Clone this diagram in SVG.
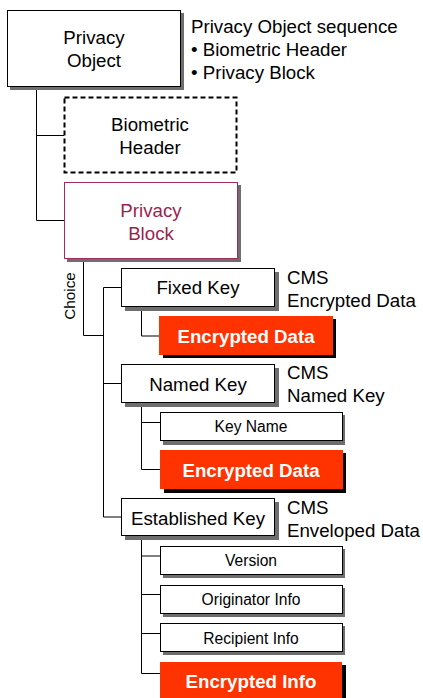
<svg xmlns="http://www.w3.org/2000/svg" width="423" height="698" viewBox="0 0 423 698">
  <style>
    text { font-family: "Liberation Sans", Arial, sans-serif; fill: #000; }
    .box { fill: #fff; stroke: #000; stroke-width: 1; }
    .shadow { fill: #6e6e6e; }
    .rshadow { fill: #000; }
    .red { fill: #ff3300; }
    .dash { fill: #fff; stroke: #000; stroke-width: 2; stroke-dasharray: 5 3; }
    .pb { fill: #fff; stroke: #a32a5c; stroke-width: 1; }
    .t { font-size: 18.7px; text-anchor: middle; }
    .s { font-size: 15.6px; text-anchor: middle; }
    .w { font-size: 18.7px; font-weight: bold; fill: #fff; text-anchor: middle; }
    .note { font-size: 18.7px; }
    .conn { fill: none; stroke: #000; stroke-width: 1; }
  </style>

  <g id="connectors">
    <path class="conn" d="M36.5 86 V220.5 H64"/>
    <path class="conn" d="M36.5 135.5 H64"/>
    <path class="conn" d="M83.5 259 V335.5 H103.5"/>
    <path class="conn" d="M103.5 287.5 V517 H122"/>
    <path class="conn" d="M103.5 287.5 H122"/>
    <path class="conn" d="M103.5 383.5 H122"/>
    <path class="conn" d="M141.5 307 V336 H160"/>
    <path class="conn" d="M141.5 403 V469.5 H160"/>
    <path class="conn" d="M141.5 422.5 H160"/>
    <path class="conn" d="M141.5 536 V673.5 H160"/>
    <path class="conn" d="M141.5 556 H160"/>
    <path class="conn" d="M141.5 594.5 H160"/>
    <path class="conn" d="M141.5 633.5 H160"/>
  </g>

  <g id="privacy-object">
    <rect class="shadow" x="10" y="13" width="174" height="77"/>
    <rect class="box" x="7.5" y="10.5" width="173" height="76"/>
    <text class="t" x="94" y="44">Privacy</text>
    <text class="t" x="94" y="67">Object</text>
  </g>

  <g id="privacy-object-note">
    <text class="note" x="191" y="33">Privacy Object sequence</text>
    <text class="note" x="191" y="56">• Biometric Header</text>
    <text class="note" x="191" y="79">• Privacy Block</text>
  </g>

  <g id="biometric-header">
    <rect class="dash" x="64.5" y="97.5" width="172" height="75"/>
    <text class="t" x="150" y="131">Biometric</text>
    <text class="t" x="150" y="154">Header</text>
  </g>

  <g id="privacy-block">
    <rect class="shadow" x="67" y="185" width="174" height="77"/>
    <rect class="pb" x="64.5" y="182.5" width="173" height="76"/>
    <text class="t" x="151" y="217" style="fill:#9c1f50">Privacy</text>
    <text class="t" x="151" y="240" style="fill:#9c1f50">Block</text>
  </g>

  <text id="choice-label" font-size="15.3px" text-anchor="middle" transform="translate(75 296) rotate(-90)">Choice</text>

  <g id="fixed-key">
    <rect class="shadow" x="125" y="272" width="154" height="39"/>
    <rect class="box" x="121.5" y="268.5" width="153" height="38"/>
    <text class="t" x="198" y="294">Fixed Key</text>
  </g>
  <g id="fixed-key-note">
    <text class="note" x="287" y="284">CMS</text>
    <text class="note" x="287" y="307">Encrypted Data</text>
  </g>

  <g id="encrypted-data-1">
    <rect class="rshadow" x="163" y="319" width="173" height="39"/>
    <rect class="red" x="159" y="316" width="174" height="39"/>
    <text class="w" x="246" y="343">Encrypted Data</text>
  </g>

  <g id="named-key">
    <rect class="shadow" x="125" y="368" width="154" height="39"/>
    <rect class="box" x="121.5" y="364.5" width="153" height="38"/>
    <text class="t" x="198" y="391">Named Key</text>
  </g>
  <g id="named-key-note">
    <text class="note" x="287" y="379">CMS</text>
    <text class="note" x="287" y="402">Named Key</text>
  </g>

  <g id="key-name">
    <rect class="shadow" x="163" y="415" width="182" height="30"/>
    <rect class="box" x="160.5" y="412.5" width="182" height="28"/>
    <text class="s" x="251" y="432">Key Name</text>
  </g>

  <g id="encrypted-data-2">
    <rect class="rshadow" x="164" y="453" width="182" height="40"/>
    <rect class="red" x="160" y="450" width="183" height="39"/>
    <text class="w" x="251" y="477">Encrypted Data</text>
  </g>

  <g id="established-key">
    <rect class="shadow" x="125" y="502" width="154" height="38"/>
    <rect class="box" x="121.5" y="498.5" width="153" height="37"/>
    <text class="t" x="198" y="525">Established Key</text>
  </g>
  <g id="established-key-note">
    <text class="note" x="287" y="514">CMS</text>
    <text class="note" x="287" y="537">Enveloped Data</text>
  </g>

  <g id="version">
    <rect class="shadow" x="163" y="549" width="182" height="29"/>
    <rect class="box" x="160.5" y="546.5" width="182" height="28"/>
    <text class="s" x="251" y="566">Version</text>
  </g>

  <g id="originator-info">
    <rect class="shadow" x="163" y="588" width="182" height="29"/>
    <rect class="box" x="160.5" y="585.5" width="182" height="28"/>
    <text class="s" x="251" y="605">Originator Info</text>
  </g>

  <g id="recipient-info">
    <rect class="shadow" x="163" y="626" width="182" height="29"/>
    <rect class="box" x="160.5" y="623.5" width="182" height="28"/>
    <text class="s" x="251" y="644">Recipient Info</text>
  </g>

  <g id="encrypted-info">
    <rect class="rshadow" x="164" y="665" width="182" height="36"/>
    <rect class="red" x="160" y="662" width="182" height="36"/>
    <text class="w" x="251" y="688">Encrypted Info</text>
  </g>
</svg>
